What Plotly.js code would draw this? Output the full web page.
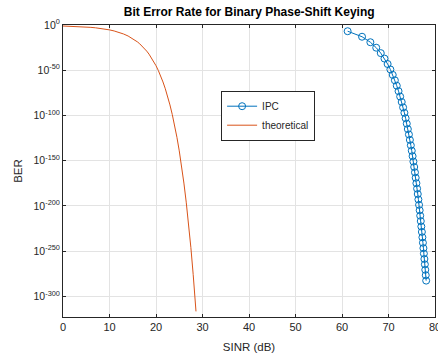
<!DOCTYPE html>
<html><head><meta charset="utf-8">
<script src="https://cdn.plot.ly/plotly-3.0.1.min.js"></script>
<style>html,body{margin:0;padding:0;background:#fff;}#c{width:438px;height:358px;}</style>
</head><body><div id="c"></div>
<script>
// Theoretical BPSK curve: SINR (dB) and log10(BER)
const theoSINR = [0,1,2,3,4,5,6,7,8,9,10,11,12,13,14,15,15.5,16,16.5,17,17.5,18,18.5,19,19.5,20,20.5,21,21.5,22,22.5,23,23.5,24,24.5,25,25.5,26,26.5,27,27.5,28,28.5,28.6];
const theoLogBER = [-1.10,-1.25,-1.43,-1.64,-1.90,-2.23,-2.62,-3.11,-3.72,-4.48,-5.41,-6.59,-8.05,-9.88,-12.17,-15.04,-16.74,-18.65,-20.78,-23.17,-25.84,-28.85,-32.22,-36.00,-40.23,-44.98,-50.30,-56.28,-62.97,-70.48,-78.90,-88.35,-98.96,-110.84,-124.16,-139.13,-155.91,-174.74,-195.87,-219.57,-246.14,-275.98,-309.4,-316.6];
// IPC markers
const ipcSINR = [61.21,64.31,66.10,67.36,68.34,69.14,69.81,70.40,70.91,71.37,71.78,72.16,72.51,72.84,73.14,73.42,73.68,73.93,74.16,74.39,74.60,74.80,75.00,75.18,75.36,75.53,75.69,75.85,76.00,76.15,76.29,76.43,76.57,76.70,76.82,76.94,77.06,77.18,77.29,77.40,77.51,77.61,77.72,77.82,77.91,78.01,78.10];
const ipcLogBER = [-6.86,-12.98,-19.04,-25.08,-31.11,-37.12,-43.13,-49.13,-55.14,-61.13,-67.13,-73.12,-79.12,-85.11,-91.10,-97.09,-103.08,-109.07,-115.06,-121.04,-127.03,-133.02,-139.00,-144.99,-150.97,-156.96,-162.94,-168.92,-174.91,-180.89,-186.87,-192.86,-198.84,-204.82,-210.80,-216.78,-222.77,-228.75,-234.73,-240.71,-246.69,-252.67,-258.65,-264.64,-270.62,-276.60,-282.58];
// Axis ticks
const xTicks = [0,10,20,30,40,50,60,70,80];
const yTickExp = [0,-50,-100,-150,-200,-250,-300];

const toVal = e => Math.pow(10, e);
const axisCol = '#262626';
const font = {family:'"Liberation Sans", Arial, sans-serif', size:11, color:axisCol};

const data = [
  {x: ipcSINR, y: ipcLogBER.map(toVal), name:'IPC', type:'scatter', mode:'lines+markers',
   line:{color:'#0072BD', width:1}, marker:{symbol:'circle-open', size:7, color:'#0072BD', line:{width:1}}},
  {x: theoSINR, y: theoLogBER.map(toVal), name:'theoretical', type:'scatter', mode:'lines',
   line:{color:'#D95319', width:1}}
];
const layout = {
  width:438, height:358,
  margin:{l:63, r:3, t:25, b:41},
  paper_bgcolor:'#fff', plot_bgcolor:'#fff',
  font: font,
  showlegend:true,
  title:{text:'<b>Bit Error Rate for Binary Phase-Shift Keying</b>', font:{family:font.family, size:12, color:'#000'}, x:0.569, xanchor:'center', y:0.978, yanchor:'top'},
  xaxis:{range:[0,80], tickvals:xTicks, ticktext:xTicks.map(String), ticks:'inside', ticklen:3, tickcolor:axisCol,
    ticklabeloverflow:'allow', tickfont:{size:11},
    showline:true, linecolor:axisCol, linewidth:1, mirror:'ticks', showgrid:true, gridcolor:'#e3e3e3', zeroline:false,
    title:{text:'SINR (dB)', font:{size:11.5, color:axisCol}, standoff:10}},
  yaxis:{type:'log', range:[-322.8,0], tickvals:yTickExp.map(toVal), ticktext:yTickExp.map(e=>'10<sup>'+e+'</sup>'),
    tickfont:{size:10.5},
    ticks:'inside', ticklen:3, tickcolor:axisCol, showline:true, linecolor:axisCol, linewidth:1, mirror:'ticks',
    showgrid:true, gridcolor:'#e3e3e3', zeroline:false,
    title:{text:'BER', font:{size:11.5, color:axisCol}, standoff:8}},
  legend:{x:0.425, y:0.775, xanchor:'left', yanchor:'top', bgcolor:'#fff', bordercolor:axisCol, borderwidth:1,
    font:{size:10, color:axisCol}, itemwidth:30, tracegroupgap:0}
};
Plotly.newPlot('c', data, layout, {displayModeBar:false, staticPlot:true});
</script></body></html>
